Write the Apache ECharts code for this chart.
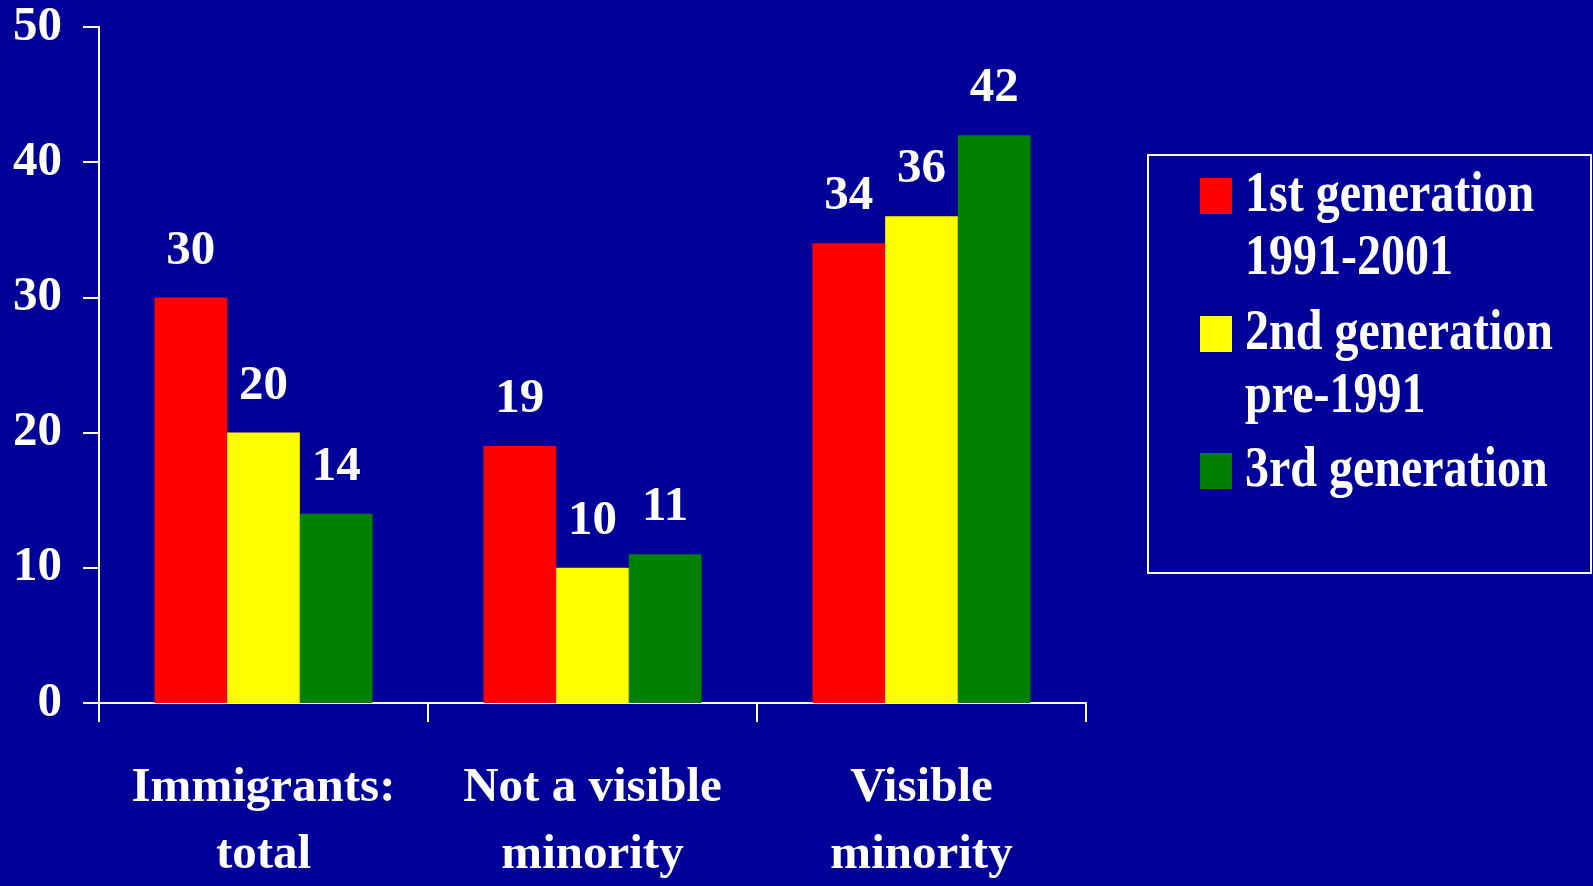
<!DOCTYPE html>
<html>
<head>
<meta charset="utf-8">
<script src="https://cdn.jsdelivr.net/npm/echarts@6/dist/echarts.min.js"></script>
<style>
  html, body { margin: 0; padding: 0; background: #000099; }
  #chart { width: 1593px; height: 886px; }
</style>
</head>
<body>
<div id="chart"></div>
<script>
// Share of each group, by generation (%)
const categories = ['Immigrants:\ntotal', 'Not a visible\nminority', 'Visible\nminority'];
const seriesNames = ['1st generation\n1991-2001', '2nd generation\npre-1991', '3rd generation'];
const firstGeneration = [30, 19, 34];
const secondGeneration = [20, 10, 36];
const thirdGeneration = [14, 11, 42];
const yTicks = [0, 10, 20, 30, 40, 50];

const colors = ['#FF0000', '#FFFF00', '#008000'];
const seriesValues = [firstGeneration, secondGeneration, thirdGeneration];

const FONT = '"Liberation Serif", "Times New Roman", serif';
const FS = 49;

const chart = echarts.init(document.getElementById('chart'), null, { renderer: 'canvas' });

// Framed legend: a swatch per series, its name beside it in tall bold serif,
// the first line of each name level with the swatch
const legendGraphics = [{
  type: 'rect',
  shape: { x: 1148, y: 155, width: 443, height: 418 },
  style: { fill: 'none', stroke: '#FFFFFF', lineWidth: 2 }
}];
const legendTops = [178, 316, 453];
const LEGEND_LINE = 63;
seriesNames.forEach((name, i) => {
  legendGraphics.push({
    type: 'rect',
    shape: { x: 1200, y: legendTops[i], width: 32, height: 36 },
    style: { fill: colors[i] }
  });
  name.split('\n').forEach((line, j) => {
    legendGraphics.push({
      type: 'text',
      x: 1245,
      y: legendTops[i] + 18 + j * LEGEND_LINE,
      scaleY: 1.18,
      style: {
        text: line,
        fill: '#FFFFFF',
        font: 'bold 48px ' + FONT,
        verticalAlign: 'middle',
        align: 'left'
      }
    });
  });
});

chart.setOption({
  backgroundColor: '#000099',
  animation: false,
  grid: {
    left: 99, right: 507, top: 27, bottom: 183,
    containLabel: false,
    outerBoundsMode: 'none'
  },
  xAxis: {
    type: 'category',
    data: categories,
    axisLine: { lineStyle: { color: '#FFFFFF', width: 2 } },
    axisTick: { show: true, inside: false, length: 19, lineStyle: { color: '#FFFFFF', width: 2 } },
    axisLabel: {
      color: '#FFFFFF',
      fontFamily: FONT,
      fontWeight: 'bold',
      fontSize: FS,
      lineHeight: 67,
      margin: 52,
      interval: 0
    },
    splitLine: { show: false }
  },
  yAxis: {
    type: 'value',
    min: yTicks[0],
    max: yTicks[yTicks.length - 1],
    interval: yTicks[1] - yTicks[0],
    axisLine: { show: true, lineStyle: { color: '#FFFFFF', width: 2 } },
    axisTick: { show: true, inside: false, length: 16, lineStyle: { color: '#FFFFFF', width: 2 } },
    axisLabel: {
      color: '#FFFFFF',
      fontFamily: FONT,
      fontWeight: 'bold',
      fontSize: FS,
      margin: 37,
      padding: [5, 0, 0, 0]
    },
    splitLine: { show: false }
  },
  series: seriesValues.map((vals, i) => ({
    type: 'bar',
    name: seriesNames[i],
    data: vals,
    barGap: '0%',
    barCategoryGap: '33.7%',
    itemStyle: { color: colors[i] },
    label: {
      show: true,
      position: 'top',
      distance: 22,
      color: '#FFFFFF',
      fontFamily: FONT,
      fontWeight: 'bold',
      fontSize: FS
    }
  })),
  graphic: legendGraphics
});
</script>
</body>
</html>
